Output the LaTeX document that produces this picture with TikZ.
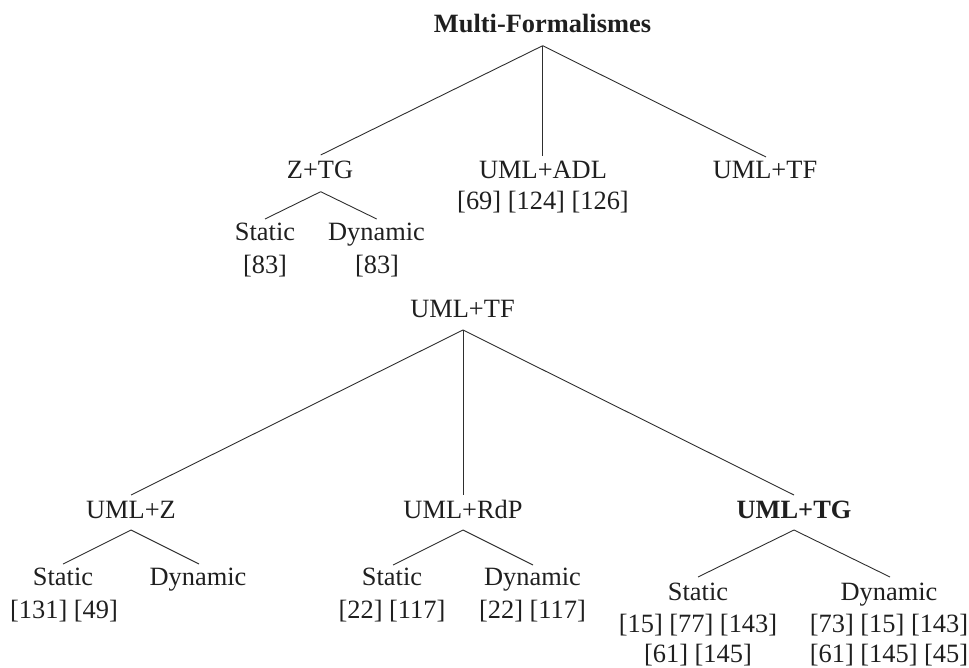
\documentclass[tikz,border=0pt]{standalone}
\usepackage{fontspec}
\setmainfont{Liberation Serif}
\begin{document}
\begin{tikzpicture}[x=1pt,y=-1pt,
  lbl/.style={anchor=base,inner sep=0pt,text=black!88,font=\fontsize{26.4}{31.7}\selectfont},
  blbl/.style={lbl,font=\fontsize{26.4}{31.7}\selectfont\bfseries},
  edge/.style={draw=black!82,line width=0.9pt}]
\useasboundingbox (0,0) rectangle (969,668);
% upper tree
\node[blbl] (root) at (542.5,33) {Multi-Formalismes};
\node[lbl] (ztg) at (320,179) {Z+TG};
\node[lbl] (adl) at (543,179) {UML+ADL};
\node[lbl] (adlc) at (543,210) {[69] [124] [126]};
\node[lbl] (tfa) at (765,179) {UML+TF};
\node[lbl] (zs) at (265,241) {Static};
\node[lbl] (zsc) at (265,274) {[83]};
\node[lbl] (zd) at (376.5,241) {Dynamic};
\node[lbl] (zdc) at (377,274) {[83]};
% lower tree
\node[lbl] (tfb) at (462.5,317) {UML+TF};
\node[lbl] (uz) at (131,518) {UML+Z};
\node[lbl] (ur) at (463,518) {UML+RdP};
\node[blbl] (ut) at (794,518) {UML+TG};
\node[lbl] (uzs) at (63,585) {Static};
\node[lbl] (uzsc) at (64,618) {[131] [49]};
\node[lbl] (uzd) at (198,585) {Dynamic};
\node[lbl] (urs) at (392,585) {Static};
\node[lbl] (ursc) at (392,618) {[22] [117]};
\node[lbl] (urd) at (532.5,585) {Dynamic};
\node[lbl] (urdc) at (532.5,618) {[22] [117]};
\node[lbl] (uts) at (698,600) {Static};
\node[lbl] (utsc) at (698,632) {[15] [77] [143]};
\node[lbl] (utsd) at (698,662) {[61] [145]};
\node[lbl] (utd) at (889,600) {Dynamic};
\node[lbl] (utdc) at (889,632) {[73] [15] [143]};
\node[lbl] (utdd) at (889,662) {[61] [145] [45]};
% connectors: y grows downwards, so a positive shift goes below a baseline
\draw[edge] ([shift={(0.2,12.7)}]root.base) -- ([shift={(0.7,-24)}]ztg.base);
\draw[edge] ([shift={(0.2,12.7)}]root.base) -- ([shift={(-0.3,-23)}]adl.base);
\draw[edge] ([shift={(0.2,12.7)}]root.base) -- ([shift={(1,-22)}]tfa.base);
\draw[edge] ([shift={(0.7,12.7)}]ztg.base) -- ([shift={(0,-22)}]zs.base);
\draw[edge] ([shift={(0.7,12.7)}]ztg.base) -- ([shift={(0.2,-22)}]zd.base);
\draw[edge] ([shift={(0.5,13)}]tfb.base) -- ([shift={(0,-23)}]uz.base);
\draw[edge] ([shift={(0.5,13)}]tfb.base) -- ([shift={(0,-23)}]ur.base);
\draw[edge] ([shift={(0.5,13)}]tfb.base) -- ([shift={(0,-23)}]ut.base);
\draw[edge] ([shift={(0,12)}]uz.base) -- ([shift={(0,-21)}]uzs.base);
\draw[edge] ([shift={(0,12)}]uz.base) -- ([shift={(1,-21)}]uzd.base);
\draw[edge] ([shift={(0,12)}]ur.base) -- ([shift={(1,-20)}]urs.base);
\draw[edge] ([shift={(0,12)}]ur.base) -- ([shift={(0.5,-20)}]urd.base);
\draw[edge] ([shift={(0,12)}]ut.base) -- ([shift={(0,-23)}]uts.base);
\draw[edge] ([shift={(0,12)}]ut.base) -- ([shift={(1,-23)}]utd.base);
\end{tikzpicture}
\end{document}
